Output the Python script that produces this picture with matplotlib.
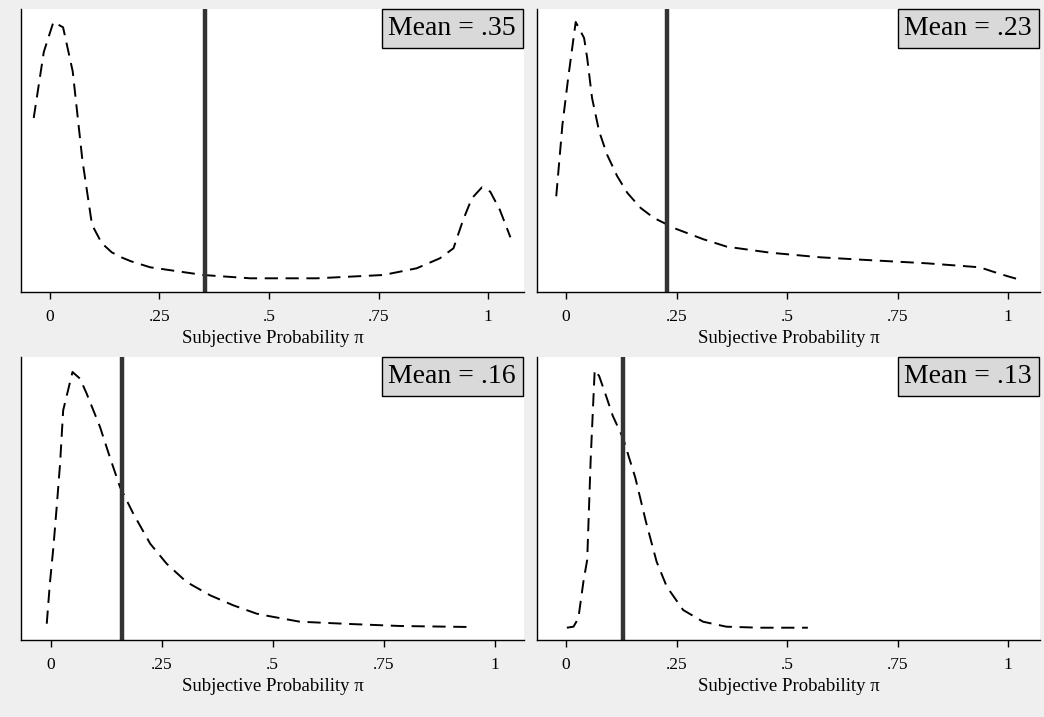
import matplotlib as mpl
mpl.use('Agg')
import matplotlib.pyplot as plt

# kernel density curves (x = subjective probability, y = density, arbitrary units)
x_p1 = [-0.037, -0.014, 0.008, 0.030, 0.052, 0.074, 0.096, 0.118, 0.141, 0.163, 0.185, 0.229,
        0.350, 0.457, 0.609, 0.761, 0.837, 0.890, 0.921, 0.943, 0.963, 0.986, 1.005, 1.027, 1.051]
y_p1 = [1.62, 2.28, 2.58, 2.527, 2.087, 1.203, 0.553, 0.37, 0.277, 0.227, 0.187, 0.127,
        0.05, 0.017, 0.017, 0.05, 0.117, 0.217, 0.317, 0.60, 0.817, 0.927, 0.883, 0.70, 0.427]

x_p2 = [-0.022, -0.008, 0.005, 0.022, 0.041, 0.048, 0.059, 0.075, 0.093, 0.116, 0.139, 0.169,
        0.199, 0.248, 0.311, 0.364, 0.462, 0.575, 0.680, 0.816, 0.936, 0.966, 0.997, 1.023]
y_p2 = [0.837, 1.553, 2.02, 2.58, 2.42, 2.22, 1.82, 1.487, 1.253, 1.037, 0.87, 0.72,
        0.62, 0.513, 0.407, 0.333, 0.273, 0.227, 0.20, 0.167, 0.127, 0.083, 0.04, 0.007]

x_p3 = [-0.009, -0.002, 0.006, 0.014, 0.021, 0.028, 0.049, 0.066, 0.081, 0.111, 0.133, 0.156,
        0.186, 0.224, 0.261, 0.306, 0.359, 0.411, 0.464, 0.494, 0.561, 0.674, 0.787, 0.944]
y_p3 = [0.043, 0.443, 0.81, 1.243, 1.643, 2.177, 2.56, 2.493, 2.343, 2.01, 1.71, 1.41,
        1.143, 0.843, 0.643, 0.46, 0.327, 0.227, 0.143, 0.117, 0.063, 0.04, 0.02, 0.01]

x_p4 = [0.002, 0.017, 0.028, 0.040, 0.048, 0.056, 0.065, 0.075, 0.090, 0.106, 0.129, 0.157,
        0.181, 0.205, 0.228, 0.265, 0.310, 0.363, 0.438, 0.547]
y_p4 = [0.003, 0.013, 0.097, 0.48, 0.68, 1.70, 2.58, 2.52, 2.33, 2.12, 1.90, 1.50,
        1.06, 0.663, 0.413, 0.18, 0.063, 0.013, 0.003, 0.003]

means = [0.355, 0.229, 0.160, 0.129]
mean_labels = ['Mean = .35', 'Mean = .23', 'Mean = .16', 'Mean = .13']
xlims = [(-0.066, 1.082), (-0.0655, 1.072), (-0.067, 1.066), (-0.0655, 1.072)]
ticks = [0, 0.25, 0.5, 0.75, 1]
tick_labels = ['0', '.25', '.5', '.75', '1']

curves = [(x_p1, y_p1), (x_p2, y_p2), (x_p3, y_p3), (x_p4, y_p4)]

plt.rcParams['font.family'] = ['Liberation Serif', 'DejaVu Serif']
plt.rcParams['lines.scale_dashes'] = False

W, H = 1044, 717
fig = plt.figure(figsize=(W / 100, H / 100), dpi=100, facecolor='#efefef')

# panel boxes in pixels: left, top
boxes = [(21, 9), (537, 9), (21, 357), (537, 357)]
pw, ph = 503, 283

for (left, top), (xs, ys), m, lab, xl in zip(boxes, curves, means, mean_labels, xlims):
    ax = fig.add_axes([left / W, 1 - (top + ph) / H, pw / W, ph / H])
    ax.set_facecolor('white')
    ax.plot(xs, ys, color='black', lw=1.4, linestyle=(0, (9.5, 5.5)))
    ax.axvline(m, color='#333333', lw=3.2)
    ax.set_xlim(*xl)
    ax.set_ylim(-0.12, 2.71)
    for s in ['top', 'right']:
        ax.spines[s].set_visible(False)
    for s in ['left', 'bottom']:
        ax.spines[s].set_linewidth(1.0)
        ax.spines[s].set_color('black')
    ax.set_yticks([])
    ax.set_xticks(ticks)
    ax.set_xticklabels(tick_labels, fontsize=12.5)
    ax.tick_params(axis='x', direction='out', length=5, width=1, pad=7)
    ax.set_xlabel('Subjective Probability π', fontsize=13.5, labelpad=4)
    ax.annotate(lab, xy=(1, 1), xycoords='axes fraction',
                xytext=(-8, -7), textcoords='offset pixels',
                ha='right', va='top', fontsize=20,
                bbox=dict(boxstyle='square,pad=0.24', facecolor='#d9d9d9',
                          edgecolor='black', linewidth=1.0))

fig.savefig('out.png', dpi=100, facecolor=fig.get_facecolor())
plt.close(fig)
